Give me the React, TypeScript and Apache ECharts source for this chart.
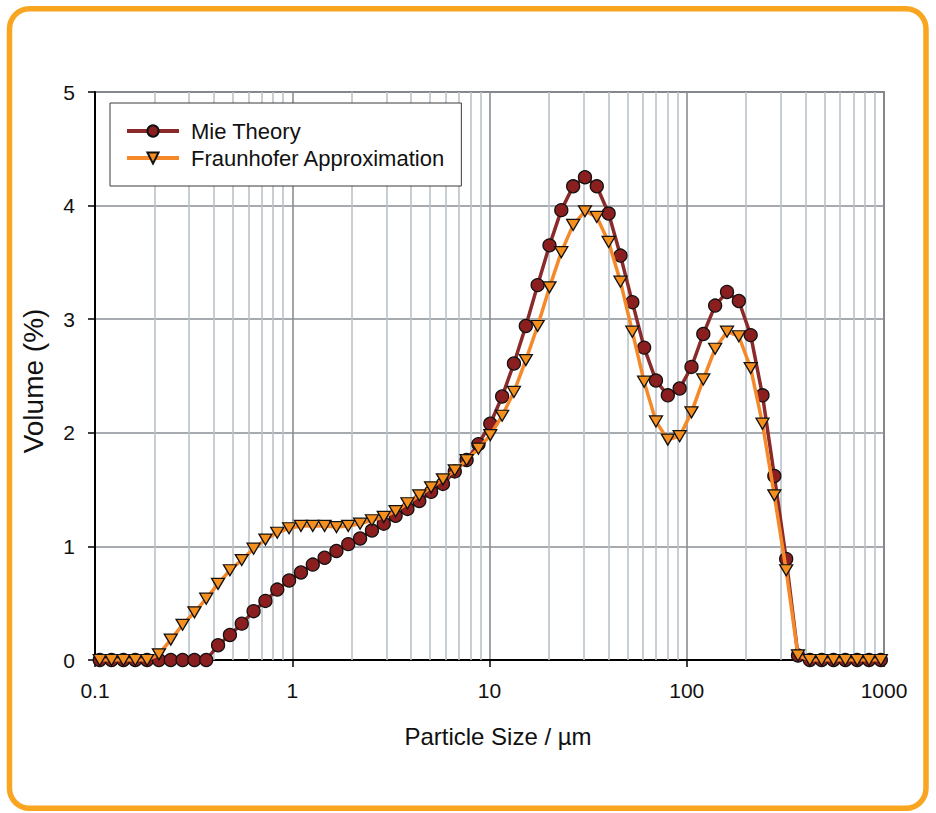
import React, { useEffect, useRef } from "react";
import * as echarts from "echarts";

const sizes = [
  0.1057, 0.1213, 0.1393, 0.16, 0.1837, 0.2109, 0.2421, 0.278, 0.3192, 0.3664,
  0.4207, 0.4831, 0.5546, 0.6368, 0.7311, 0.8395, 0.9638, 1.107, 1.271, 1.459,
  1.675, 1.923, 2.208, 2.535, 2.911, 3.342, 3.837, 4.406, 5.058, 5.808,
  6.668, 7.656, 8.79, 10.09, 11.59, 13.3, 15.28, 17.54, 20.14, 23.12,
  26.55, 30.48, 34.99, 40.18, 46.13, 52.97, 60.81, 69.82, 80.17, 92.04,
  105.7, 121.3, 139.3, 160, 183.7, 210.9, 242.1, 278, 319.2, 366.4,
  420.7, 483.1, 554.6, 636.8, 731.1, 839.5, 963.8,
];

const mieTheory = [
  0, 0, 0, 0, 0, 0, 0, 0, 0, 0,
  0.13, 0.22, 0.32, 0.43, 0.52, 0.62, 0.7, 0.77, 0.84, 0.9,
  0.96, 1.02, 1.07, 1.14, 1.2, 1.27, 1.33, 1.4, 1.48, 1.55,
  1.66, 1.76, 1.9, 2.08, 2.32, 2.61, 2.94, 3.3, 3.65, 3.96,
  4.17, 4.25, 4.17, 3.93, 3.56, 3.15, 2.75, 2.46, 2.33, 2.39,
  2.58, 2.87, 3.12, 3.24, 3.16, 2.86, 2.33, 1.62, 0.89, 0.04,
  0, 0, 0, 0, 0, 0, 0,
];

const fraunhofer = [
  0, 0, 0, 0, 0, 0.05, 0.18, 0.31, 0.42, 0.54,
  0.67, 0.79, 0.88, 0.98, 1.06, 1.12, 1.16, 1.18, 1.18, 1.18,
  1.17, 1.18, 1.2, 1.23, 1.26, 1.31, 1.38, 1.45, 1.52, 1.59,
  1.67, 1.76, 1.86, 1.98, 2.15, 2.36, 2.64, 2.94, 3.28, 3.59,
  3.83, 3.95, 3.9, 3.68, 3.33, 2.89, 2.45, 2.1, 1.94, 1.97,
  2.18, 2.47, 2.74, 2.89, 2.85, 2.57, 2.08, 1.45, 0.79, 0.04,
  0, 0, 0, 0, 0, 0, 0,
];

const xTickLabels = ["0.1", "1", "10", "100", "1000"];
const minorGridValues = [
  0.2, 0.3, 0.4, 0.5, 0.6, 0.7, 0.8, 0.9,
  2, 3, 4, 5, 6, 7, 8, 9,
  20, 30, 40, 50, 60, 70, 80, 90,
  200, 300, 400, 500, 600, 700, 800, 900,
];

const FONT = "'Liberation Sans', Arial, Helvetica, sans-serif";

export default function App() {
  const ref = useRef<HTMLDivElement>(null);

  useEffect(() => {
    if (!ref.current) return;
    const chart = echarts.init(ref.current, undefined, { renderer: "svg" });

    const mieData = sizes.map((s, i) => [s, mieTheory[i]]);
    const frData = sizes.map((s, i) => [s, fraunhofer[i]]);

    chart.setOption({
      animation: false,
      backgroundColor: "#ffffff",
      textStyle: { fontFamily: FONT },
      grid: {
        left: 95,
        right: 52,
        top: 92,
        bottom: 153,
        show: true,
        borderColor: "#4a4a4a",
        borderWidth: 1.5,
        backgroundColor: "transparent",
      },
      legend: {
        orient: "vertical",
        left: 110,
        top: 103,
        padding: [17, 16, 17, 15],
        borderColor: "#3a3a3a",
        borderWidth: 1,
        backgroundColor: "#ffffff",
        itemWidth: 52,
        itemHeight: 14,
        itemGap: 5,
        lineStyle: { width: 4 },
        data: ["Mie Theory", "Fraunhofer Approximation"],
        textStyle: {
          fontFamily: FONT,
          fontSize: 22,
          color: "#111",
          padding: [0, 0, 0, 7],
        },
      },
      graphic: [
        {
          type: "rect",
          shape: { x: 9.5, y: 8.8, width: 916.5, height: 799.5, r: 20 },
          style: { fill: "none", stroke: "#F9A51F", lineWidth: 5.5 },
          silent: true,
          z: 10,
        },
        {
          type: "text",
          x: 498,
          y: 736,
          style: {
            text: "Particle Size / \u00b5m",
            fontFamily: FONT,
            fontSize: 24,
            fill: "#111",
            textAlign: "center",
            textVerticalAlign: "middle",
          },
        },
        {
          type: "text",
          x: 33,
          y: 381,
          rotation: Math.PI / 2,
          style: {
            text: "Volume (%)",
            fontFamily: FONT,
            fontSize: 28,
            fill: "#111",
            textAlign: "center",
            textVerticalAlign: "middle",
          },
        },
      ],
      xAxis: {
        type: "log",
        logBase: 10,
        min: 0.1,
        max: 1000,
        axisLine: { show: true, lineStyle: { color: "#000", width: 2 } },
        axisTick: { show: true, inside: false, length: 7, lineStyle: { color: "#000", width: 1.5 } },
        axisLabel: {
          margin: 20,
          fontSize: 21,
          color: "#111",
          fontFamily: FONT,
          formatter: (v: number) => {
            const idx = Math.round(Math.log10(v)) + 1;
            return xTickLabels[idx] ?? String(v);
          },
        },
        splitLine: { show: true, lineStyle: { color: "#8a8f94", width: 1.6 } },
        minorTick: { show: false },
        minorSplitLine: { show: false },
      },
      yAxis: {
        type: "value",
        min: 0,
        max: 5,
        interval: 1,
        axisLine: { show: true, lineStyle: { color: "#000", width: 2 } },
        axisTick: { show: true, inside: false, length: 7, lineStyle: { color: "#000", width: 1.5 } },
        axisLabel: { margin: 20, fontSize: 21, color: "#111", fontFamily: FONT },
        splitLine: { show: true, lineStyle: { color: "#8a8f94", width: 1.6 } },
      },
      series: [
        {
          name: "Mie Theory",
          type: "line",
          data: mieData,
          z: 3,
          symbol: "circle",
          symbolSize: 13,
          showAllSymbol: true,
          lineStyle: { color: "#8B2A2A", width: 3.5 },
          itemStyle: { color: "#8B1F1F", borderColor: "#111", borderWidth: 1.3 },
          markLine: {
            silent: true,
            z: 1,
            symbol: ["none", "none"],
            label: { show: false },
            lineStyle: { type: "solid", color: "#bac3ca", width: 1.6 },
            data: minorGridValues.map((v) => ({ xAxis: v })),
          },
        },
        {
          name: "Fraunhofer Approximation",
          type: "line",
          data: frData,
          z: 4,
          symbol: "triangle",
          symbolRotate: 180,
          symbolSize: [13, 11],
          showAllSymbol: true,
          lineStyle: { color: "#F5892A", width: 3.5 },
          itemStyle: { color: "#F5901F", borderColor: "#111", borderWidth: 1.3 },
        },
      ],
    });

    return () => chart.dispose();
  }, []);

  return (
    <div
      ref={ref}
      style={{ position: "fixed", left: 0, top: 0, width: 936, height: 813, background: "#fff" }}
    />
  );
}
